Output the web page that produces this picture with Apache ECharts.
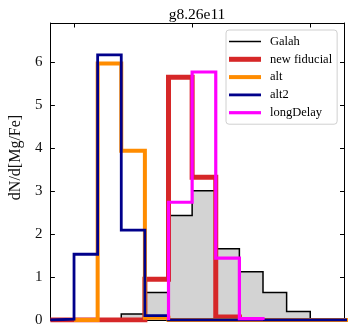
<!DOCTYPE html>
<html>
<head>
<meta charset="utf-8">
<script src="https://cdn.jsdelivr.net/npm/echarts@6/dist/echarts.min.js"></script>
<style>
html,body{margin:0;padding:0;background:#fff;}
#chart{width:349px;height:335px;}
</style>
</head>
<body>
<div id="chart"></div>
<script>
// bin edges in [Mg/Fe]; null = bin outside that histogram's range
const binEdges = [-0.1, 0.0, 0.1, 0.2, 0.3, 0.4, 0.5, 0.6, 0.7, 0.8, 0.9, 1.0, 1.1, 1.2];
const galah       = [null, null, null, 0.14, 0.64, 2.43, 3.01, 1.66, 1.12, 0.64, 0.20, null, null];
const newFiducial = [0, 0, 0, 0, 0.95, 5.65, 3.32, 0.07, null, null, null, null, null];
const alt         = [null, 0, 5.97, 3.94, 0.05, 0, 0, 0, 0, 0, 0, 0, 0];
const alt2        = [0.02, 1.53, 6.17, 2.09, 0.10, 0, 0, 0, 0, 0, 0, 0, 0];
const longDelay   = [null, null, null, null, null, 2.74, 5.77, 1.44, 0.03, null, null, null, null];
const yTicks = [0, 1, 2, 3, 4, 5, 6];
const xTicks = [0, 0.5, 1.0];
const titleText = 'g8.26e11';
const yName = 'dN/d[Mg/Fe]';
const seriesNames = ['Galah', 'new fiducial', 'alt', 'alt2', 'longDelay'];

function stepData(vals) {
  let first = vals.findIndex(v => v !== null);
  let last = vals.length - 1;
  while (vals[last] === null) last--;
  const pts = [[binEdges[first], 0]];
  for (let i = first; i <= last; i++) pts.push([binEdges[i], vals[i]]);
  pts.push([binEdges[last + 1], vals[last]]);
  pts.push([binEdges[last + 1], 0]);
  return pts;
}

const serif = 'Liberation Serif';
const chart = echarts.init(document.getElementById('chart'), null, {renderer: 'canvas'});

function xAx(pos) {
  return {
    type: 'value', position: pos, min: -0.1, max: 1.145,
    axisLine: {show: true, onZero: false, lineStyle: {color: '#000', width: 1}},
    axisTick: {show: true, inside: true, length: 4.5, customValues: xTicks, lineStyle: {color: '#000', width: 1}},
    axisLabel: {show: false}, splitLine: {show: false}
  };
}
function yAx(pos, labels) {
  return {
    type: 'value', position: pos, min: 0, max: 6.91, interval: 1,
    axisLine: {show: true, onZero: false, lineStyle: {color: '#000', width: 1}},
    axisTick: {show: true, inside: true, length: 4.5, customValues: yTicks, lineStyle: {color: '#000', width: 1}},
    axisLabel: labels ? {show: true, customValues: yTicks, color: '#111', fontFamily: serif, fontSize: 15, margin: 8} : {show: false},
    splitLine: {show: false},
    name: labels ? yName : '', nameLocation: 'middle', nameGap: 19,
    nameTextStyle: {fontFamily: serif, fontSize: 16, color: '#111', padding: [0, 0, 0, 28]}
  };
}

function line(name, vals, color, width, extra) {
  return Object.assign({
    name: name, type: 'line', step: 'end', data: stepData(vals),
    symbol: 'none', showSymbol: false, clip: true,
    lineStyle: {color: color, width: width, join: 'miter'},
    itemStyle: {color: color},
    emphasis: {disabled: true}, animation: false
  }, extra || {});
}

const colors = ['#000000', '#d62728', '#ff8c00', '#00008b', '#ff00ff'];
const widths = [1.5, 5, 4, 2.8, 3.2];

chart.setOption({
  animation: false,
  backgroundColor: '#fff',
  title: {text: titleText, left: 192, textAlign: 'center', top: 2,
          textStyle: {fontFamily: serif, fontSize: 15.5, fontWeight: 'normal', color: '#000'}},
  grid: {left: 40, right: 4.5, top: 23, bottom: 15, containLabel: false},
  xAxis: [xAx('bottom'), xAx('top')],
  yAxis: [yAx('left', true), yAx('right', false)],
  legend: {
    orient: 'vertical', left: 226, top: 30,
    padding: [5, 5, 5, 3], itemGap: 4.8, itemWidth: 32, itemHeight: 14,
    backgroundColor: 'rgba(255,255,255,0.8)', borderColor: '#d0d0d0', borderWidth: 1, borderRadius: 3,
    textStyle: {fontFamily: serif, fontSize: 12.5, color: '#000', padding: [0, 0, 0, 4]},
    symbolKeepAspect: true,
    data: seriesNames.map((n, i) => ({
      name: n,
      icon: 'path://M0,0h32v' + widths[i] + 'h-32z',
      itemStyle: {color: colors[i], borderWidth: 0}
    })),
    selectedMode: false
  },
  series: [
    line(seriesNames[0], galah, colors[0], widths[0], {areaStyle: {color: '#d3d3d3', opacity: 1}}),
    line(seriesNames[1], newFiducial, colors[1], widths[1]),
    line(seriesNames[2], alt, colors[2], widths[2]),
    line(seriesNames[3], alt2, colors[3], widths[3]),
    line(seriesNames[4], longDelay, colors[4], widths[4])
  ]
});
</script>
</body>
</html>
